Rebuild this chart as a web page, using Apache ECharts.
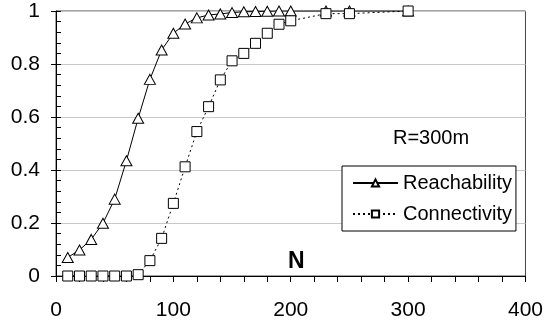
<!DOCTYPE html>
<html>
<head>
<meta charset="utf-8">
<script src="https://cdn.jsdelivr.net/npm/echarts@6/dist/echarts.min.js"></script>
<style>
  html, body { margin: 0; padding: 0; background: #fff; }
  #chart { width: 546px; height: 325px; }
</style>
</head>
<body>
<div id="chart"></div>
<script>
// 节点数 N
const N_VALUES = [10, 20, 30, 40, 50, 60, 70, 80, 90, 100, 110, 120, 130, 140, 150, 160, 170, 180, 190, 200, 230, 250, 300]
// 两条曲线
const REACHABILITY = [0.07, 0.098, 0.138, 0.199, 0.29, 0.435, 0.595, 0.742, 0.853, 0.916, 0.951, 0.974, 0.985, 0.989, 0.994, 0.997, 0.998, 0.999, 1, 1, 1, 1, 1]
const CONNECTIVITY = [0, 0, 0, 0, 0, 0, 0.005, 0.058, 0.142, 0.274, 0.412, 0.545, 0.639, 0.74, 0.812, 0.84, 0.878, 0.916, 0.95, 0.963, 0.99, 0.99, 1]
const SERIES_NAMES = ['Reachability', 'Connectivity']

const FONT = "'Liberation Sans', Arial, sans-serif"

function pairs(ys) {
  return N_VALUES.map((n, i) => [n, ys[i]])
}

const chart = echarts.init(document.getElementById('chart'), null, { renderer: 'canvas' })

chart.setOption({
  animation: false,
  backgroundColor: '#fff',
  grid: { left: 56, right: 18, top: 11, bottom: 49, show: true, borderColor: '#444', borderWidth: 1 },
  xAxis: {
    type: 'value',
    min: 0,
    max: 400,
    interval: 100,
    axisLine: { lineStyle: { color: '#000', width: 1 } },
    axisTick: { length: 6, lineStyle: { color: '#000' } },
    minorTick: { show: true, splitNumber: 5, length: 6, lineStyle: { color: '#000' } },
    axisLabel: { color: '#000', fontSize: 21, fontFamily: FONT, margin: 24 },
    splitLine: { show: false },
  },
  yAxis: [
    {
      type: 'value',
      min: 0,
      max: 1,
      interval: 0.2,
      axisLine: { show: true, lineStyle: { color: '#000', width: 1 } },
      axisTick: { show: true, length: 5, lineStyle: { color: '#000' } },
      axisLabel: { color: '#000', fontSize: 21, fontFamily: FONT, margin: 16 },
      splitLine: { show: true, lineStyle: { color: '#c8c8c8', width: 1 } },
    },
    // 内侧小刻度
    {
      type: 'value',
      position: 'left',
      min: 0,
      max: 1,
      interval: 0.04,
      axisLine: { show: false },
      axisTick: { show: true, inside: true, length: 5, lineStyle: { color: '#000' } },
      axisLabel: { show: false },
      splitLine: { show: false },
    },
  ],
  legend: {
    data: SERIES_NAMES,
    orient: 'vertical',
    left: 342,
    top: 166,
    padding: [7, 4, 7, 10],
    itemWidth: 45,
    itemHeight: 9,
    itemGap: 11,
    borderColor: '#000',
    borderWidth: 1,
    backgroundColor: '#fff',
    textStyle: { color: '#000', fontSize: 20, fontFamily: FONT, lineHeight: 20 },
  },
  graphic: [
    {
      type: 'text',
      left: 393,
      top: 128,
      style: { text: 'R=300m', fill: '#000', font: `20px ${FONT}` },
    },
    {
      type: 'text',
      left: 288,
      top: 250,
      style: { text: 'N', fill: '#000', font: `bold 23px ${FONT}` },
    },
  ],
  series: [
    {
      name: SERIES_NAMES[0],
      type: 'line',
      data: pairs(REACHABILITY),
      symbol: 'triangle',
      symbolSize: [11, 10],
      lineStyle: { color: '#000', width: 1 },
      itemStyle: { color: '#fff', borderColor: '#000', borderWidth: 1 },
    },
    {
      name: SERIES_NAMES[1],
      type: 'line',
      data: pairs(CONNECTIVITY),
      symbol: 'rect',
      symbolSize: 10,
      lineStyle: { color: '#000', width: 1, type: [2, 3] },
      itemStyle: { color: '#fff', borderColor: '#000', borderWidth: 1 },
    },
  ],
})
</script>
</body>
</html>
